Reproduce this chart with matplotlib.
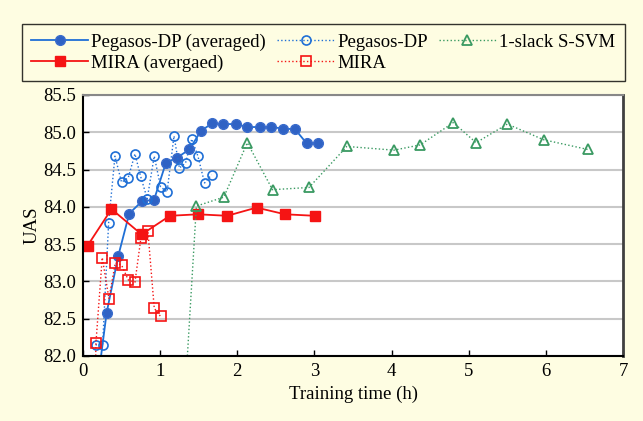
import matplotlib
matplotlib.use('Agg')
from matplotlib import pyplot as plt
from matplotlib.ticker import FormatStrFormatter

# Pegasos-DP (averaged)
peg_avg_t = [0.16, 0.307, 0.457, 0.60, 0.77, 0.92, 1.075, 1.22, 1.38, 1.53, 1.675,
             1.82, 1.98, 2.13, 2.29, 2.44, 2.59, 2.75, 2.90, 3.05]
peg_avg_uas = [81.4, 82.58, 83.34, 83.91, 84.08, 84.09, 84.59, 84.66, 84.77, 85.02, 85.12,
               85.11, 85.11, 85.07, 85.07, 85.07, 85.05, 85.04, 84.85, 84.85]

# Pegasos-DP
peg_t = [0.164, 0.255, 0.333, 0.415, 0.50, 0.587, 0.674, 0.747, 0.833, 0.924, 1.006,
         1.09, 1.18, 1.25, 1.33, 1.41, 1.49, 1.576, 1.667]
peg_uas = [82.15, 82.15, 83.79, 84.68, 84.33, 84.39, 84.71, 84.41, 84.11, 84.68, 84.27,
           84.20, 84.95, 84.52, 84.59, 84.91, 84.68, 84.32, 84.43]

# MIRA (averaged)
mira_avg_t = [0.06, 0.37, 0.76, 1.127, 1.49, 1.87, 2.25, 2.62, 3.005]
mira_avg_uas = [83.48, 83.97, 83.63, 83.88, 83.90, 83.88, 83.99, 83.90, 83.88]

# MIRA
mira_t = [0.15, 0.168, 0.25, 0.337, 0.42, 0.50, 0.587, 0.674, 0.751, 0.842, 0.924, 1.006]
mira_uas = [81.0, 82.17, 83.32, 82.77, 83.25, 83.22, 83.02, 82.99, 83.58, 83.67, 82.64, 82.53]

# 1-slack S-SVM
ssvm_t = [1.3, 1.47, 1.826, 2.13, 2.457, 2.93, 3.42, 4.03, 4.37, 4.80, 5.095, 5.50, 5.97, 6.54]
ssvm_uas = [81.08, 84.01, 84.13, 84.86, 84.23, 84.26, 84.81, 84.76, 84.83, 85.13, 84.86,
            85.11, 84.90, 84.77]

bg = '#fefde2'
plt.rcParams['font.family'] = ['Liberation Serif', 'DejaVu Serif']
plt.rcParams['font.size'] = 13.5

fig = plt.figure(figsize=(6.43, 4.21), dpi=100, facecolor=bg)
ax = fig.add_axes([0.129, 0.1544, 0.84, 0.62])
ax.set_facecolor('white')

blue = '#1f6fd6'
red = '#f51414'
green = '#3a9a62'

h1, = ax.plot(peg_avg_t, peg_avg_uas, color=blue, lw=1.3, marker='o', ms=7,
              mfc='#2f62c4', mec='#3a6ccc', label='Pegasos-DP (averaged)')
h3, = ax.plot(peg_t, peg_uas, color=blue, lw=1, ls=':', marker='o', ms=6.5,
              mfc='none', mec=blue, mew=1.2, label='Pegasos-DP')
h2, = ax.plot(mira_avg_t, mira_avg_uas, color=red, lw=1.3, marker='s', ms=7,
              mfc=red, mec=red, label='MIRA (avergaed)')
h4, = ax.plot(mira_t, mira_uas, color=red, lw=1, ls=':', marker='s', ms=6.5,
              mfc='none', mec=red, mew=1.2, label='MIRA')
h5, = ax.plot(ssvm_t, ssvm_uas, color=green, lw=1, ls=':', marker='^', ms=6.5,
              mfc='none', mec=green, mew=1.3, label='1-slack S-SVM')

ax.set_xlim(0, 7)
ax.set_ylim(82.0, 85.5)
ax.set_xticks(range(0, 8))
ax.set_yticks([82.0, 82.5, 83.0, 83.5, 84.0, 84.5, 85.0, 85.5])
ax.yaxis.set_major_formatter(FormatStrFormatter('%.1f'))
ax.tick_params(direction='in', length=4, width=1, labelsize=13.5, pad=5)
ax.grid(axis='y', color='#c8c8c8', lw=1.5)
ax.set_axisbelow(True)

ax.spines['left'].set_color('black')
ax.spines['left'].set_linewidth(1.5)
ax.spines['bottom'].set_color('black')
ax.spines['bottom'].set_linewidth(1.5)
ax.spines['top'].set_color('#888888')
ax.spines['top'].set_linewidth(1.5)
ax.spines['right'].set_color('#404040')
ax.spines['right'].set_linewidth(2)

ax.set_xlabel('Training time (h)', fontsize=13.5, labelpad=4)
ax.set_ylabel('UAS', fontsize=13.5, labelpad=2)

leg = fig.legend(handles=[h1, h2, h3, h4, h5], ncol=3, loc='upper left',
                 bbox_to_anchor=(22 / 643, 1 - 24 / 421),
                 frameon=True, fancybox=False, fontsize=13.5,
                 handlelength=3.0, handletextpad=0.2, columnspacing=0.6,
                 labelspacing=0.2, borderaxespad=0.0, borderpad=0.5)
leg.get_frame().set_edgecolor('black')
leg.get_frame().set_facecolor(bg)
leg.get_frame().set_linewidth(1)

plt.savefig('out.png', dpi=100, facecolor=bg)
